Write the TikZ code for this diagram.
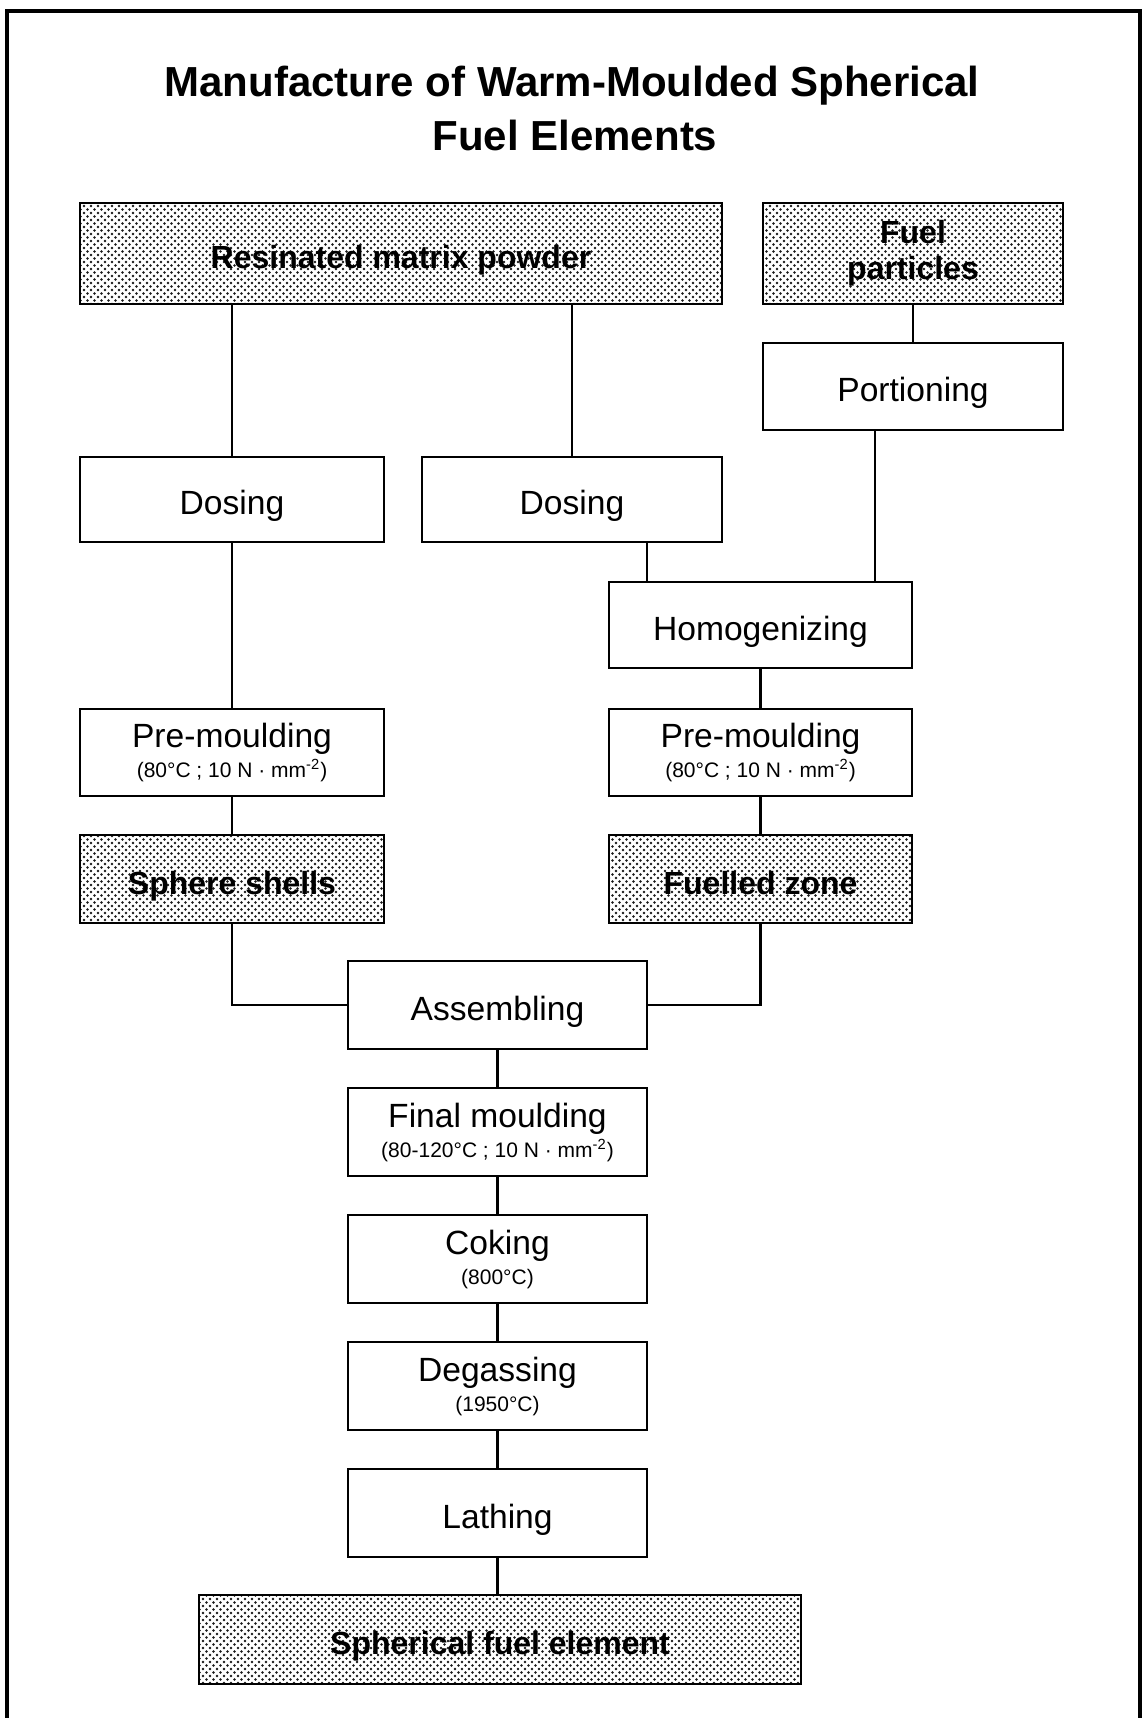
\documentclass[tikz,border=0pt]{standalone}
\usepackage{fontspec}
\setmainfont{Liberation Sans}
\usetikzlibrary{patterns}
\pgfdeclarepatternformonly{coarsedots}{\pgfqpoint{-1pt}{-1pt}}{\pgfqpoint{4.5pt}{4.5pt}}{\pgfqpoint{3.5pt}{3.5pt}}{%
  \pgfpathcircle{\pgfqpoint{0pt}{0pt}}{0.72pt}%
  \pgfpathcircle{\pgfqpoint{1.75pt}{1.75pt}}{0.72pt}%
  \pgfusepath{fill}}
\begin{document}
\begin{tikzpicture}[x=0.5pt,y=-0.5pt,
  procbox/.style={draw,line width=1.3pt,fill=white,inner sep=0pt,align=center,
    font=\fontsize{16.8}{17}\selectfont},
  onel/.style={text height=15pt,text depth=0pt},
  shadebox/.style={procbox,fill=none,pattern=coarsedots,pattern color=black!90,
    font=\fontsize{16}{17}\selectfont\bfseries},
  link/.style={line width=1.1pt},
  titlefont/.style={font=\fontsize{21}{25}\selectfont\bfseries,inner sep=0pt,anchor=base}
]
\newcommand{\subline}[1]{{\fontsize{10.5}{12}\selectfont #1}}
\useasboundingbox (0,0) rectangle (1144,1718);
\fill[white] (0,0) rectangle (1144,1718);
% outer frame
\draw[line width=1.8pt] (7,11) rectangle (1140,1780);
% title
\node[titlefont] (t1) at (572,97) {Manufacture of Warm-Moulded Spherical};
\node[titlefont] (t2) at (575,150) {Fuel Elements};
% boxes
\node[shadebox,onel,minimum width=321pt,minimum height=50.5pt] (resin) at (401,253.5) {Resinated matrix powder};
\node[shadebox,minimum width=150pt,minimum height=50.5pt] (fuelp) at (913,253.5) {Fuel\\[1pt]particles};
\node[procbox,onel,minimum width=150pt,minimum height=43.5pt] (portion) at (913,386.5) {Portioning};
\node[procbox,onel,minimum width=152pt,minimum height=42.5pt] (dos1) at (232,499.5) {Dosing};
\node[procbox,onel,minimum width=150pt,minimum height=42.5pt] (dos2) at (572,499.5) {Dosing};
\node[procbox,onel,minimum width=151.5pt,minimum height=43pt] (homog) at (760.5,625) {Homogenizing};
\node[procbox,minimum width=152pt,minimum height=43.5pt] (pre1) at (232,752.5) {Pre-moulding\\[-2pt]\subline{(80°C ; 10 N · mm\textsuperscript{-2})}};
\node[procbox,minimum width=151.5pt,minimum height=43.5pt] (pre2) at (760.5,752.5) {Pre-moulding\\[-2pt]\subline{(80°C ; 10 N · mm\textsuperscript{-2})}};
\node[shadebox,onel,minimum width=152pt,minimum height=44pt] (shells) at (232,879) {Sphere shells};
\node[shadebox,onel,minimum width=151.5pt,minimum height=44pt] (fzone) at (760.5,879) {Fuelled zone};
\node[procbox,onel,minimum width=149.5pt,minimum height=44pt] (assem) at (497.5,1005) {Assembling};
\node[procbox,minimum width=149.5pt,minimum height=44pt] (final) at (497.5,1132) {Final moulding\\[-2pt]\subline{(80-120°C ; 10 N · mm\textsuperscript{-2})}};
\node[procbox,minimum width=149.5pt,minimum height=44pt] (coke) at (497.5,1259) {Coking\\[-2pt]\subline{(800°C)}};
\node[procbox,minimum width=149.5pt,minimum height=44pt] (degas) at (497.5,1386) {Degassing\\[-2pt]\subline{(1950°C)}};
\node[procbox,onel,minimum width=149.5pt,minimum height=44pt] (lathe) at (497.5,1513) {Lathing};
\node[shadebox,onel,minimum width=301pt,minimum height=44.5pt] (sfe) at (500,1639.5) {Spherical fuel element};
% helper coordinates for off-centre joins
\coordinate (cpor) at (875,0);
\coordinate (cdos) at (647,0);
% connectors
\draw[link] (resin.south -| dos1.north) -- (dos1.north);
\draw[link] (resin.south -| dos2.north) -- (dos2.north);
\draw[link] (fuelp.south) -- (portion.north);
\draw[link] (portion.south -| cpor) -- (homog.north -| cpor);
\draw[link] (dos2.south -| cdos) -- (homog.north -| cdos);
\draw[link] (dos1.south) -- (pre1.north);
\draw[link] (homog.south) -- (pre2.north);
\draw[link] (pre1.south) -- (shells.north);
\draw[link] (pre2.south) -- (fzone.north);
\draw[link] (shells.south) |- (assem.west);
\draw[link] (fzone.south) |- (assem.east);
\draw[link] (assem.south) -- (final.north);
\draw[link] (final.south) -- (coke.north);
\draw[link] (coke.south) -- (degas.north);
\draw[link] (degas.south) -- (lathe.north);
\draw[link] (lathe.south) -- (lathe.south |- sfe.north);
\end{tikzpicture}
\end{document}
